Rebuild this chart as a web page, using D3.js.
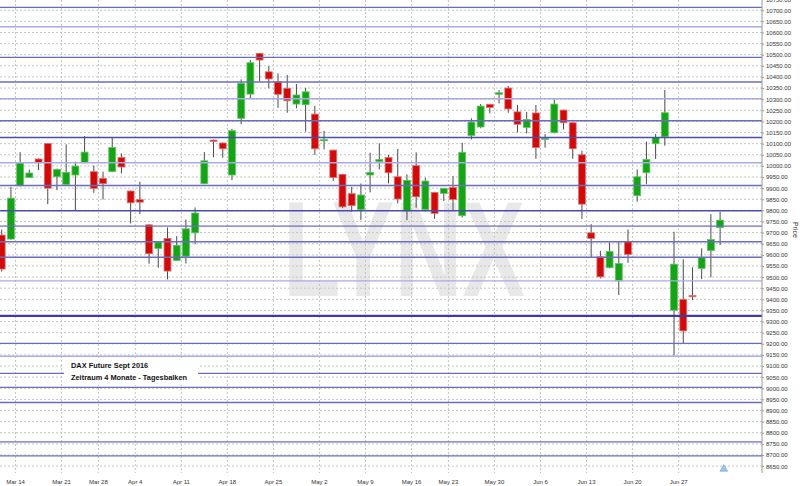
<!DOCTYPE html>
<html>
<head>
<meta charset="utf-8">
<script src="https://cdn.jsdelivr.net/npm/d3@7"></script>
<style>
  body { margin: 0; background: #fff; }
  svg { display: block; font-family: "Liberation Sans", Arial, sans-serif; }
</style>
</head>
<body>
<svg id="chart"></svg>
<script>
// trading days shown (DAX Future Sept 2016, daily bars)
var dates = [
  "2016-03-10","2016-03-11","2016-03-14","2016-03-15","2016-03-16","2016-03-17","2016-03-18",
  "2016-03-21","2016-03-22","2016-03-23","2016-03-24","2016-03-29","2016-03-30","2016-03-31",
  "2016-04-01","2016-04-04","2016-04-05","2016-04-06","2016-04-07","2016-04-08","2016-04-11",
  "2016-04-12","2016-04-13","2016-04-14","2016-04-15","2016-04-18","2016-04-19","2016-04-20",
  "2016-04-21","2016-04-22","2016-04-25","2016-04-26","2016-04-27","2016-04-28","2016-04-29",
  "2016-05-02","2016-05-03","2016-05-04","2016-05-05","2016-05-06","2016-05-09","2016-05-10",
  "2016-05-11","2016-05-12","2016-05-13","2016-05-17","2016-05-18","2016-05-19","2016-05-20",
  "2016-05-23","2016-05-24","2016-05-25","2016-05-26","2016-05-27","2016-05-30","2016-05-31",
  "2016-06-01","2016-06-02","2016-06-03","2016-06-06","2016-06-07","2016-06-08","2016-06-09",
  "2016-06-10","2016-06-13","2016-06-14","2016-06-15","2016-06-16","2016-06-17","2016-06-20",
  "2016-06-21","2016-06-22","2016-06-23","2016-06-24","2016-06-27","2016-06-28","2016-06-29",
  "2016-06-30","2016-07-01"
];
var opens = [
  9689, 9671, 9911, 9948, 10031, 10101, 9951, 9917, 9959, 10014, 9974, 9944, 9974, 10038,
  9887, 9848, 9735, 9629, 9674, 9575, 9594, 9699, 9920, 10116, 10103, 9959, 10214, 10323,
  10506, 10423, 10378, 10349, 10278, 10275, 10233, 10114, 10071, 9962, 9875, 9804, 9959, 10020,
  10038, 9951, 9797, 10001, 9804, 9881, 9876, 9903, 9776, 10136, 10175, 10277, 10322, 10350,
  10243, 10173, 10238, 10119, 10149, 10251, 10194, 10050, 9699, 9591, 9542, 9483, 9659, 9866,
  9969, 10100, 10131, 9351, 9400, 9417, 9539, 9620, 9722
];
var highs = [
  9714, 9906, 10062, 9984, 10033, 10103, 9988, 10097, 10019, 10134, 10002, 9974, 10128, 10056,
  9889, 9929, 9738, 9660, 9723, 9684, 9759, 9813, 10062, 10118, 10105, 10167, 10389, 10476,
  10508, 10449, 10416, 10409, 10368, 10351, 10270, 10157, 10073, 9964, 9906, 9921, 10059, 10101,
  10049, 10076, 9962, 10061, 9947, 9883, 9900, 9954, 10104, 10214, 10278, 10279, 10341, 10359,
  10274, 10243, 10274, 10143, 10299, 10253, 10196, 10068, 9738, 9618, 9656, 9659, 9714, 9984,
  10109, 10143, 10341, 9704, 9580, 9544, 9629, 9783, 9794
];
var lows = [
  9525, 9668, 9908, 9946, 9981, 9828, 9891, 9910, 9798, 10012, 9879, 9849, 9972, 9966,
  9741, 9783, 9560, 9542, 9490, 9572, 9561, 9648, 9918, 10038, 10037, 9936, 10187, 10302,
  10380, 10349, 10261, 10239, 10259, 10154, 10049, 10074, 9932, 9810, 9794, 9756, 9881, 9984,
  9921, 9831, 9756, 9812, 9794, 9762, 9842, 9801, 9768, 10119, 10169, 10236, 10281, 10239,
  10151, 10146, 10032, 10082, 10147, 10164, 10032, 9762, 9587, 9494, 9540, 9419, 9564, 9839,
  9918, 10031, 10091, 9148, 9202, 9396, 9491, 9499, 9644
];
var closes = [
  9536, 9855, 10013, 9968, 10014, 9900, 9984, 9971, 9999, 10062, 9899, 9920, 10083, 9995,
  9834, 9837, 9605, 9657, 9527, 9643, 9717, 9788, 10023, 10110, 10077, 10158, 10371, 10464,
  10476, 10391, 10322, 10293, 10319, 10333, 10077, 10118, 9948, 9816, 9821, 9869, 9971, 10029,
  9969, 9851, 9935, 9861, 9932, 9786, 9899, 9849, 10061, 10197, 10269, 10263, 10329, 10256,
  10187, 10209, 10082, 10124, 10278, 10194, 10077, 9828, 9674, 9501, 9616, 9561, 9602, 9951,
  10029, 10128, 10239, 9558, 9258, 9412, 9587, 9669, 9756
];

// week ticks on the time axis (first trading day of each week)
var weekLabels = ["Mar 14","Mar 21","Mar 28","Apr 4","Apr 11","Apr 18","Apr 25","May 2",
  "May 9","May 16","May 23","May 30","Jun 6","Jun 13","Jun 20","Jun 27"];
var weekDates = ["2016-03-14","2016-03-21","2016-03-29","2016-04-04","2016-04-11","2016-04-18",
  "2016-04-25","2016-05-02","2016-05-09","2016-05-17","2016-05-23","2016-05-30","2016-06-06",
  "2016-06-13","2016-06-20","2016-06-27"];

// price ticks on the right axis
var priceTicks = d3.range(8650, 10751, 50);

// horizontal support / resistance levels
var levelValues = [10713, 10626, 10488, 10377, 10302, 10203, 10128, 10014, 9912, 9798, 9729,
  9659, 9589, 9483, 9326, 9202, 9144, 9067, 9004, 8936, 8759, 8696];
var levelKinds = ["mid","light","mid","mid","light","mid","dark","light","mid","dark","mid",
  "mid","mid","light","key","mid","light","mid","mid","mid","mid","mid"];

var titleLines = ["DAX Future Sept 2016", "Zeitraum 4 Monate - Tagesbalken"];

var w = 800, h = 486;
var plotRight = 762, plotBottom = 473;

var svg = d3.select("#chart").attr("width", w).attr("height", h);

var x = d3.scaleBand().domain(dates).range([-2.9, 724.7]).padding(0);
var y = d3.scaleLinear().domain([8628, 10746]).range([471, 0]);

svg.append("defs").append("clipPath").attr("id", "plot")
  .append("rect").attr("x", 0).attr("y", 0).attr("width", plotRight).attr("height", plotBottom);

var plot = svg.append("g").attr("clip-path", "url(#plot)");

// watermark
plot.append("text")
  .attr("x", 283).attr("y", 296)
  .attr("textLength", 242).attr("lengthAdjust", "spacingAndGlyphs")
  .style("font-size", "136px").style("font-weight", "bold")
  .style("fill", "#e8e8e8")
  .text("LYNX");

// dotted grid
plot.selectAll("line.hgrid")
  .data(priceTicks)
  .enter().append("line")
  .attr("class", "hgrid")
  .attr("x1", 0).attr("x2", plotRight)
  .attr("y1", function (d) { return y(d); })
  .attr("y2", function (d) { return y(d); })
  .style("stroke", "#c4c4c4").style("stroke-width", 1)
  .style("stroke-dasharray", "2,2");

plot.selectAll("line.vgrid")
  .data(weekDates)
  .enter().append("line")
  .attr("class", "vgrid")
  .attr("x1", function (d) { return x(d); })
  .attr("x2", function (d) { return x(d); })
  .attr("y1", 0).attr("y2", plotBottom)
  .style("stroke", "#c4c4c4").style("stroke-width", 1)
  .style("stroke-dasharray", "2,2");

// candles
var candles = dates.map(function (d, i) {
  return { date: d, o: opens[i], h: highs[i], l: lows[i], c: closes[i] };
});
var bw = x.bandwidth() * 0.75;

var g = plot.selectAll("g.candle")
  .data(candles)
  .enter().append("g")
  .attr("class", "candle")
  .attr("transform", function (d) { return "translate(" + (x(d.date) + x.bandwidth() / 2) + ",0)"; });

g.append("line")
  .attr("y1", function (d) { return y(d.h); })
  .attr("y2", function (d) { return y(d.l); })
  .style("stroke", "#4a4a4a").style("stroke-width", 1);

g.append("rect")
  .attr("x", -bw / 2).attr("width", bw)
  .attr("y", function (d) { return y(Math.max(d.o, d.c)); })
  .attr("height", function (d) { return Math.max(1.2, Math.abs(y(d.o) - y(d.c))); })
  .style("fill", function (d) { return d.c >= d.o ? "#17a317" : "#d10a0a"; })
  .style("stroke", function (d) { return d.c >= d.o ? "#5fc85f" : "#e57070"; })
  .style("stroke-width", 0.8);

// level lines (drawn over candles)
var levelStyle = {
  light: { c: "#aaaae2", w: 1.4 },
  mid: { c: "#6c6cbc", w: 1.4 },
  dark: { c: "#4c4cab", w: 1.6 },
  key: { c: "#3c3ca4", w: 2.2 }
};
plot.selectAll("line.level")
  .data(levelValues)
  .enter().append("line")
  .attr("class", "level")
  .attr("x1", 0).attr("x2", plotRight)
  .attr("y1", function (d) { return y(d); })
  .attr("y2", function (d) { return y(d); })
  .style("stroke", function (d, i) { return levelStyle[levelKinds[i]].c; })
  .style("stroke-width", function (d, i) { return levelStyle[levelKinds[i]].w; });

// title box
plot.append("rect")
  .attr("x", 64).attr("y", 359).attr("width", 134).attr("height", 26)
  .style("fill", "#fff");
plot.selectAll("text.title")
  .data(titleLines)
  .enter().append("text")
  .attr("class", "title")
  .attr("x", 71)
  .attr("y", function (d, i) { return 366 + i * 12; })
  .attr("dominant-baseline", "middle")
  .style("font-size", "7.4px").style("font-weight", "bold").style("fill", "#111")
  .text(function (d) { return d; });

// marker for the current bar
plot.append("path")
  .attr("d", d3.symbol().type(d3.symbolTriangle).size(26))
  .attr("transform", "translate(" + (x(dates[dates.length - 1]) + x.bandwidth() * 0.9) + "," + (plotBottom - 4) + ")")
  .style("fill", "#9cc3e8").style("stroke", "#6f9fcf").style("stroke-width", 0.6);

// right price axis
var yAxis = d3.axisRight(y)
  .tickValues(priceTicks)
  .tickSize(2)
  .tickPadding(2)
  .tickFormat(d3.format(".2f"));
var ya = svg.append("g")
  .attr("transform", "translate(" + plotRight + ",0)")
  .call(yAxis);
ya.select(".domain").attr("d", "M0,0V" + plotBottom).style("stroke", "#9a9a9a");
ya.selectAll(".tick line").style("stroke", "#9a9a9a");
ya.selectAll(".tick text")
  .style("font-size", "6px").style("fill", "#333")
  .style("font-family", "'Liberation Sans', Arial, sans-serif");

svg.append("text")
  .attr("transform", "translate(795,230) rotate(90)")
  .attr("text-anchor", "middle")
  .attr("dominant-baseline", "middle")
  .style("font-size", "7px").style("fill", "#333")
  .text("Price");

// time axis labels
svg.selectAll("text.xlab")
  .data(weekDates)
  .enter().append("text")
  .attr("class", "xlab")
  .attr("x", function (d) { return x(d); })
  .attr("y", 482)
  .attr("text-anchor", "middle")
  .attr("dominant-baseline", "middle")
  .style("font-size", "6px").style("fill", "#333")
  .text(function (d, i) { return weekLabels[i]; });
</script>
</body>
</html>
